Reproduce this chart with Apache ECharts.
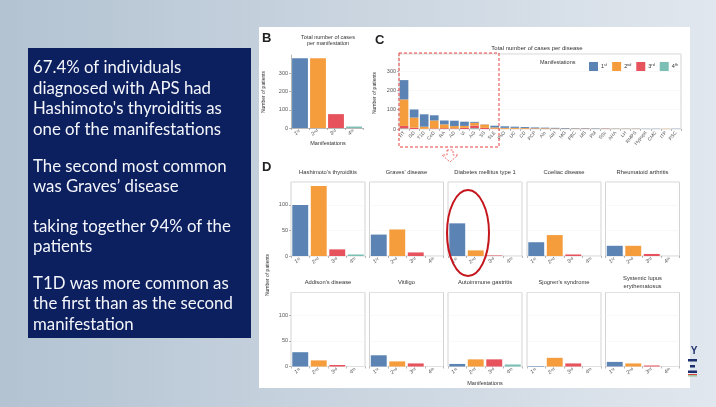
<!DOCTYPE html>
<html><head><meta charset="utf-8">
<script src="https://cdn.jsdelivr.net/npm/echarts@6/dist/echarts.min.js"></script>
<style>html,body{margin:0;padding:0;}#c{width:716px;height:407px;}</style>
</head><body><div id="c"></div>
<script>
// ---------- data ----------
const manifestations = ['1st', '2nd', '3rd', '4th'];
const totalsPerManifestation = [382, 382, 76, 8];
const diseaseCodes = ['HT','GD','T1D','CeD','RA','AD','Vi','AG','SS','SLE','PsO','UC','CD','PCP','Alo','AIH','MG','PBC','MS','PM','SSc','AHA','LH','RMPS','Hypopit','CMC','ITP','PSC'];
const cases1st = [100, 42, 64, 27, 20, 28, 22, 5, 1, 9, 8, 6, 5, 4, 3, 3, 3, 2, 2, 2, 1, 1, 1, 1, 1, 1, 0, 1];
const cases2nd = [137, 52, 11, 41, 20, 12, 10, 14, 17, 6, 5, 5, 4, 3, 3, 2, 2, 2, 1, 1, 1, 1, 1, 1, 0, 0, 1, 0];
const cases3rd = [13, 7, 1, 3, 4, 3, 6, 14, 6, 2, 1, 1, 1, 1, 1, 1, 0, 0, 1, 0, 1, 0, 0, 0, 0, 0, 0, 0];
const cases4th = [3, 0, 0, 0, 0, 0, 0, 4, 0, 0, 0, 0, 0, 0, 0, 0, 0, 0, 0, 0, 0, 0, 0, 0, 0, 0, 0, 0];
const panelTitles = ["Hashimoto's thyroiditis", "Graves' disease", "Diabetes mellitus type 1", "Coeliac disease", "Rheumatoid arthritis",
  "Addison's disease", "Vitiligo", "Autoimmune gastritis", "Sjogren's syndrome", "Systemic lupus\nerythematosus"];
const slideLines = [
  ["67.4% of individuals", "diagnosed with APS had", "Hashimoto's thyroiditis as", "one of the manifestations"],
  ["The second most common", "was Graves\u2019 disease"],
  ["taking together 94% of the", "patients"],
  ["T1D was more common as", "the first than as the second", "manifestation"]
];
// ---------- style ----------
const colors = ['#5b84b4', '#f59d3d', '#e6535c', '#7cc0b5'];
const FONT = 'Liberation Sans';
const sup = {'1st':'1\u02e2\u1d57','2nd':'2\u207f\u1d48','3rd':'3\u02b3\u1d48','4th':'4\u1d57\u02b0'};
const supFmt = v => sup[v] || v;

const grids = [], xAxes = [], yAxes = [], series = [], graphics = [];

// backgrounds
graphics.push({type:'rect', z:-10, shape:{x:259, y:27, width:431, height:361}, style:{fill:'#ffffff'}});
graphics.push({type:'rect', z:-10, shape:{x:28, y:48, width:223, height:290}, style:{fill:'#0c1f5e'}});
const lineYs = [[68,88.5,109,129.5],[166.5,187],[226.5,247],[283.5,304,324.5]];
slideLines.forEach((para, p) => para.forEach((t, i) => {
  graphics.push({type:'text', z:5, x:33, y:lineYs[p][i], style:{text:t, fill:'#f4f6fb', font:'16.8px Lato', textVerticalAlign:'middle'}});
}));

// panel letters
[['B',262,38],['C',375,40],['D',262,167]].forEach(([t,x,y]) => graphics.push({type:'text', z:5, x, y, style:{text:t, font:'bold 13px '+FONT, fill:'#222', textVerticalAlign:'middle'}}));

const smallAxis = (extra) => Object.assign({
  axisLine:{show:true, lineStyle:{color:'#999', width:0.7}},
  axisTick:{show:true, length:2, lineStyle:{color:'#999', width:0.7}},
  axisLabel:{fontSize:5.5, color:'#555', fontFamily:FONT, margin:3},
  splitLine:{show:false}
}, extra);

// ---- Panel B ----
grids.push({left:291, top:55, width:72, height:73, show:false});
xAxes.push(smallAxis({type:'category', gridIndex:0, data:manifestations,
  axisLabel:{fontSize:5.5, color:'#555', fontFamily:FONT, margin:3, rotate:30, formatter:supFmt}}));
yAxes.push(smallAxis({type:'value', gridIndex:0, min:0, max:400, interval:100,
  axisLabel:{fontSize:5.5, color:'#555', fontFamily:FONT, margin:3, showMaxLabel:false}}));
series.push({type:'bar', xAxisIndex:0, yAxisIndex:0, barWidth:'88%', silent:true,
  data: totalsPerManifestation.map((v,i)=>({value:v, itemStyle:{color:colors[i]}}))});
graphics.push({type:'text', z:5, x:328, y:40, style:{text:'Total number of cases\nper manifestation', font:'5.5px '+FONT, fill:'#333', textAlign:'center', textVerticalAlign:'middle'}});
graphics.push({type:'text', z:5, x:328, y:143, style:{text:'Manifestations', font:'5.5px '+FONT, fill:'#333', textAlign:'center', textVerticalAlign:'middle'}});
graphics.push({type:'text', z:5, x:264, y:92, rotation:Math.PI/2, style:{text:'Number of patients', font:'5px '+FONT, fill:'#333', textAlign:'center', textVerticalAlign:'middle'}});

// ---- Panel C ----
grids.push({left:399, top:54, width:282, height:75, show:true, borderColor:'#c8c8c8', borderWidth:0.8, backgroundColor:'#fff'});
xAxes.push(smallAxis({type:'category', gridIndex:1, data:diseaseCodes, axisLine:{show:false},
  axisLabel:{fontSize:4.8, color:'#555', fontFamily:FONT, margin:3, rotate:50, interval:0}}));
yAxes.push(smallAxis({type:'value', gridIndex:1, min:0, max:388, interval:100, axisLine:{show:false},
  splitLine:{show:true, lineStyle:{color:'#f0f0f0', width:0.5}},
  axisLabel:{fontSize:5.5, color:'#555', fontFamily:FONT, margin:3, showMaxLabel:false}}));
const cSeries = [cases4th, cases3rd, cases2nd, cases1st];
[3,2,1,0].forEach((mi, k) => {
  series.push({type:'bar', name:manifestations[mi], xAxisIndex:1, yAxisIndex:1, stack:'c', barWidth:'86%', silent:true,
    itemStyle:{color:colors[mi]}, data:cSeries[k]});
});
graphics.push({type:'text', z:5, x:537, y:48, style:{text:'Total number of cases per disease', font:'6px '+FONT, fill:'#333', textAlign:'center', textVerticalAlign:'middle'}});
graphics.push({type:'text', z:5, x:375, y:93, rotation:Math.PI/2, style:{text:'Number of patients', font:'5px '+FONT, fill:'#333', textAlign:'center', textVerticalAlign:'middle'}});
graphics.push({type:'text', z:5, x:540, y:62, style:{text:'Manifestations', font:'5.5px '+FONT, fill:'#333', textVerticalAlign:'middle'}});

// ---- Panel D ----
const colLefts = [291, 369.5, 448, 527, 605.5];
const rowTops = [182, 292.5];
for (let p = 0; p < 10; p++) {
  const r = Math.floor(p/5), c = p%5, gi = 2+p;
  const left = colLefts[c], top = rowTops[r];
  grids.push({left, top, width:74, height:74, show:true, borderColor:'#c8c8c8', borderWidth:0.8, backgroundColor:'#fff'});
  xAxes.push(smallAxis({type:'category', gridIndex:gi, data:manifestations, axisLine:{show:false},
    axisLabel:{fontSize:5.5, color:'#555', fontFamily:FONT, margin:3, rotate:30, interval:0, formatter:supFmt}}));
  yAxes.push(smallAxis({type:'value', gridIndex:gi, min:0, max:145, interval:50, axisLine:{show:false},
    axisTick:{show:c===0, length:2, lineStyle:{color:'#999', width:0.7}},
    splitLine:{show:true, lineStyle:{color:'#f0f0f0', width:0.5}},
    axisLabel:{show:c===0, fontSize:5.5, color:'#555', fontFamily:FONT, margin:3, showMaxLabel:false}}));
  const vals = [cases1st[p], cases2nd[p], cases3rd[p], cases4th[p]];
  series.push({type:'bar', xAxisIndex:gi, yAxisIndex:gi, barWidth:'86%', silent:true,
    data: vals.map((v,i)=>({value:v, itemStyle:{color:colors[i]}}))});
  graphics.push({type:'text', z:5, x:left+37, y: top - 10, style:{text:panelTitles[p], font:'5.8px '+FONT, fill:'#333', textAlign:'center', textVerticalAlign:'middle', lineHeight:8}});
}
graphics.push({type:'text', z:5, x:485, y:383, style:{text:'Manifestations', font:'5.5px '+FONT, fill:'#333', textAlign:'center', textVerticalAlign:'middle'}});
graphics.push({type:'text', z:5, x:268, y:275, rotation:Math.PI/2, style:{text:'Number of patients', font:'5px '+FONT, fill:'#333', textAlign:'center', textVerticalAlign:'middle'}});

// annotations
graphics.push({type:'rect', z:50, shape:{x:399, y:53, width:100, height:94}, style:{fill:'none', stroke:'#e8413c', lineWidth:1, lineDash:[3,2]}});
graphics.push({type:'polygon', z:50, shape:{points:[[447,150],[453,150],[453,155],[458,155],[450,162],[442,155],[447,155]]}, style:{fill:'none', stroke:'#e8413c', lineWidth:0.8, lineDash:[2,1.5]}});
graphics.push({type:'ellipse', z:50, shape:{cx:468, cy:233, rx:21, ry:43}, style:{fill:'none', stroke:'#c4161c', lineWidth:2}});

// logo
graphics.push({type:'text', z:5, x:694, y:351, style:{text:'Y', font:'bold 10px '+FONT, fill:'#1b2f6e', textAlign:'center', textVerticalAlign:'middle'}});
[[688,359,9,2.5,'#1b2f6e'],[690,365,5,2.5,'#1b2f6e'],[688,370.5,9,2.5,'#1b2f6e'],[688,374,9,1,'#d9443f'],[688,375.5,9,0.8,'#5aa35a']].forEach(([x,y,w,h,f]) =>
  graphics.push({type:'rect', z:5, shape:{x,y,width:w,height:h}, style:{fill:f}}));

const chart = echarts.init(document.getElementById('c'), null, {renderer:'canvas'});
chart.setOption({
  animation:false,
  backgroundColor:{type:'linear', x:0, y:0, x2:1, y2:0, colorStops:[{offset:0, color:'#b3c3d2'},{offset:1, color:'#e1e7ee'}]},
  textStyle:{fontFamily:FONT},
  legend:{data:manifestations, left:584, top:57, itemWidth:9, itemHeight:9, itemGap:5, icon:'rect',
    formatter:supFmt, textStyle:{fontSize:5.5, color:'#333', fontFamily:FONT, padding:[0,0,0,-2]}, selectedMode:false},
  grid:grids, xAxis:xAxes, yAxis:yAxes, series, graphic:{elements:graphics}
});
</script></body></html>
